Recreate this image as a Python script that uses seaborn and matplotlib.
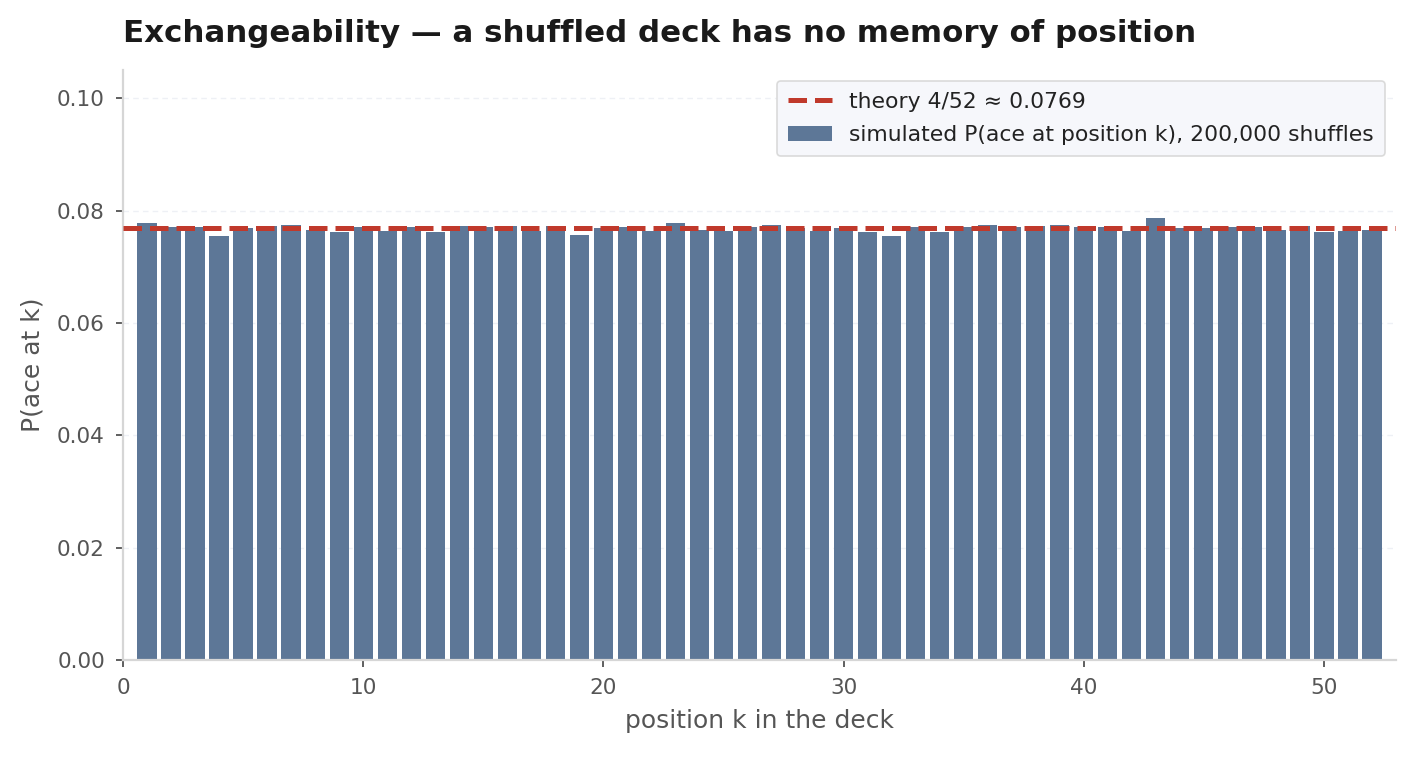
import numpy as np
import pandas as pd
import matplotlib
matplotlib.use("Agg")
import matplotlib.pyplot as plt
import seaborn as sns

positions = list(range(1, 53))
probabilities = [
    0.0777, 0.0771, 0.0770, 0.0755, 0.0768, 0.0773, 0.0775, 0.0766, 0.0761, 0.0771,
    0.0763, 0.0770, 0.0761, 0.0773, 0.0771, 0.0773, 0.0763, 0.0773, 0.0757, 0.0768,
    0.0771, 0.0763, 0.0777, 0.0766, 0.0764, 0.0770, 0.0775, 0.0769, 0.0764, 0.0768,
    0.0761, 0.0755, 0.0770, 0.0761, 0.0771, 0.0775, 0.0771, 0.0773, 0.0775, 0.0770,
    0.0771, 0.0764, 0.0786, 0.0768, 0.0768, 0.0771, 0.0770, 0.0766, 0.0773, 0.0761,
    0.0764, 0.0766,
]
theory = 4 / 52
x_ticks = [0, 10, 20, 30, 40, 50]
y_ticks = [0.00, 0.02, 0.04, 0.06, 0.08, 0.10]

df = pd.DataFrame({"k": positions, "p": probabilities})

sns.set_theme(style="ticks")
plt.rcParams["font.family"] = ["DejaVu Sans"]

fig = plt.figure(figsize=(7.075, 3.785), dpi=200)
ax = fig.add_axes([0.0869, 0.1281, 0.8997, 0.7794])
ax.set_facecolor("white")

sns.barplot(data=df, x="k", y="p", native_scale=True, width=0.8,
            color="#5d7797", saturation=1, ax=ax, zorder=2, linewidth=0)
line = ax.axhline(theory, color="#c0392b", linestyle="--", linewidth=1.8, zorder=3)

ax.set_xlim(0, 53)
ax.set_ylim(0, 0.105)
ax.set_xticks(x_ticks)
ax.set_yticks(y_ticks)
ax.set_yticklabels([f"{v:.2f}" for v in y_ticks])
ax.set_xticklabels([str(v) for v in x_ticks])

ax.yaxis.grid(True, color="#eef0f5", linestyle=(0, (4, 3)), linewidth=0.5, zorder=0)
ax.xaxis.grid(False)
ax.set_axisbelow(True)

for side in ["top", "right"]:
    ax.spines[side].set_visible(False)
for side in ["left", "bottom"]:
    ax.spines[side].set_color("#d6d6d6")
    ax.spines[side].set_linewidth(0.8)

ax.tick_params(axis="both", labelsize=7.8, colors="#444444", length=2.5, width=0.6,
               pad=4)
ax.tick_params(axis="both", labelcolor="#555555")

ax.set_xlabel("position k in the deck", fontsize=9, color="#555555", labelpad=4)
ax.set_ylabel("P(ace at k)", fontsize=9, color="#555555", labelpad=4.5)
ax.set_title("Exchangeability — a shuffled deck has no memory of position",
             loc="left", fontsize=11.1, fontweight="bold", color="#1a1a1a", pad=10)

leg = ax.legend(handles=[line, ax.containers[0]],
                labels=["theory 4/52 ≈ 0.0769",
                        "simulated P(ace at position k), 200,000 shuffles"],
                loc="upper right", fontsize=7.9, frameon=True, fancybox=True,
                facecolor="#f6f7fb", edgecolor="#dadada", framealpha=1,
                borderpad=0.5, labelspacing=0.6, handlelength=2.0)
for t in leg.get_texts():
    t.set_color("#222222")
leg.get_frame().set_linewidth(0.6)

fig.savefig("out.png", dpi=200)
